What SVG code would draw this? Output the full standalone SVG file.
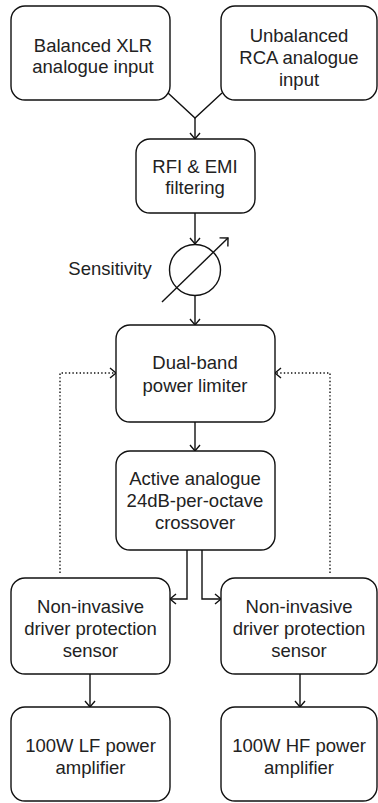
<svg xmlns="http://www.w3.org/2000/svg" width="378" height="803" viewBox="0 0 378 803">
<defs>
<style>
.box{fill:#fff;stroke:#111;stroke-width:1.4}
.t{font-family:"Liberation Sans",Arial,sans-serif;font-size:18.5px;fill:#222;text-anchor:middle}
.c{fill:none;stroke:#111;stroke-width:1.4}
.d{fill:none;stroke:#111;stroke-width:1.4;stroke-dasharray:1.4 2.2}
</style>
<marker id="ah" markerUnits="userSpaceOnUse" markerWidth="10" markerHeight="14" refX="7" refY="6" orient="auto">
<path d="M1,1 L7,6 L1,11" fill="none" stroke="#111" stroke-width="1.4"/>
</marker>
<marker id="ah2" markerUnits="userSpaceOnUse" markerWidth="10" markerHeight="14" refX="7" refY="7" orient="auto">
<path d="M1,1 L7,7 L1,13" fill="none" stroke="#111" stroke-width="1.4"/>
</marker>
</defs>
<rect width="378" height="803" fill="#fff"/>
<g id="connectors">
<path class="c" d="M168,93 L195,118 L222,93"/>
<path class="c" d="M195,118 L195,139" marker-end="url(#ah)"/>
<path class="c" d="M195,213 L195,244" marker-end="url(#ah)"/>
<path class="c" d="M195,296 L195,325" marker-end="url(#ah)"/>
<path class="c" d="M195,422 L195,451" marker-end="url(#ah)"/>
<path class="c" d="M187,550 L187,599 L170,599" marker-end="url(#ah)"/>
<path class="c" d="M202,550 L202,599 L221,599" marker-end="url(#ah)"/>
<path class="c" d="M90,674 L90,707" marker-end="url(#ah)"/>
<path class="c" d="M300,674 L300,707" marker-end="url(#ah)"/>
<path class="d" d="M60,573 L60,373 L116,373" marker-end="url(#ah)"/>
<path class="d" d="M330,573 L330,373 L275,373" marker-end="url(#ah)"/>
</g>
<g id="n-xlr"><rect class="box" x="11" y="6" width="159" height="94" rx="14"/><text class="t" x="93" y="52">Balanced XLR</text><text class="t" x="93" y="73">analogue input</text></g>
<g id="n-rca"><rect class="box" x="221" y="6" width="156" height="94" rx="14"/><text class="t" x="299" y="42">Unbalanced</text><text class="t" x="299" y="64">RCA analogue</text><text class="t" x="299" y="86">input</text></g>
<g id="n-rfi"><rect class="box" x="136" y="139" width="119" height="74" rx="14"/><text class="t" x="195" y="173">RFI &amp; EMI</text><text class="t" x="195" y="194">filtering</text></g>
<g id="n-sens"><circle class="box" cx="195" cy="270" r="25.5"/><path class="c" d="M162,302 L228,238" marker-end="url(#ah2)"/><text class="t" x="110" y="275">Sensitivity</text></g>
<g id="n-lim"><rect class="box" x="116" y="325" width="159" height="97" rx="14"/><text class="t" x="195" y="369">Dual-band</text><text class="t" x="195" y="392">power limiter</text></g>
<g id="n-xo"><rect class="box" x="116" y="451" width="159" height="99" rx="14"/><text class="t" x="195" y="485">Active analogue</text><text class="t" x="195" y="507">24dB-per-octave</text><text class="t" x="195" y="529">crossover</text></g>
<g id="n-sens-l"><rect class="box" x="11" y="578" width="159" height="96" rx="14"/><text class="t" x="90.5" y="613">Non-invasive</text><text class="t" x="90.5" y="635">driver protection</text><text class="t" x="90.5" y="657">sensor</text></g>
<g id="n-sens-r"><rect class="box" x="221" y="578" width="156" height="96" rx="14"/><text class="t" x="299" y="613">Non-invasive</text><text class="t" x="299" y="635">driver protection</text><text class="t" x="299" y="657">sensor</text></g>
<g id="n-lf"><rect class="box" x="11" y="707" width="159" height="94" rx="14"/><text class="t" x="90.5" y="752">100W LF power</text><text class="t" x="90.5" y="774">amplifier</text></g>
<g id="n-hf"><rect class="box" x="221" y="707" width="156" height="94" rx="14"/><text class="t" x="299" y="752">100W HF power</text><text class="t" x="299" y="774">amplifier</text></g>
</svg>
